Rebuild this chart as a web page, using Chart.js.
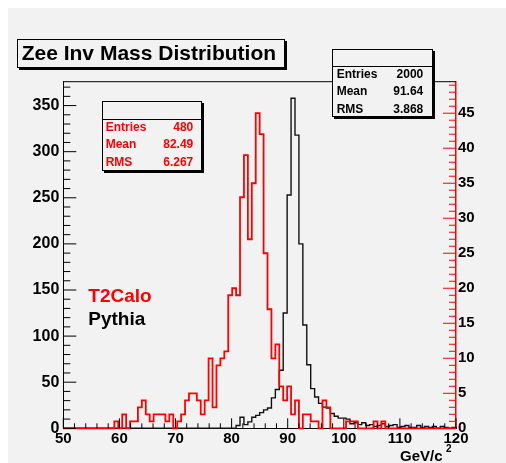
<!DOCTYPE html>
<html lang="en">
  <head>
    <meta charset="UTF-8" />
    <title>Zee Inv Mass Distribution</title>
    <script src="https://cdn.jsdelivr.net/npm/chart.js@4.4.0/dist/chart.umd.min.js"></script>
    <style>
      body { margin: 0; background: #fff; font-family: "Liberation Sans", Arial, sans-serif; }
      #wrap { position: relative; width: 506px; height: 463px; overflow: hidden; }
      #pad { position: absolute; left: 8px; top: 8px; width: 498px; height: 455px; background: #f2f2f2; }
      #c { position: absolute; left: 0; top: 0; }
      .box { position: absolute; box-sizing: border-box; border: 1px solid #000; background: #f2f2f2; box-shadow: 2px 2px 0 #000; }
      .sep { position: absolute; height: 1px; background: #000; }
      .txt { position: absolute; white-space: nowrap; line-height: 1; font-weight: bold; }
      .row { position: absolute; display: flex; justify-content: space-between; font-size: 12px; line-height: 1; font-weight: bold; }
      .red { color: #ff0000; }
    </style>
  </head>
  <body>
  <div id="wrap">
    <div id="pad"></div>
    <canvas id="c" width="506" height="463"></canvas>

    <!-- title -->
    <div class="box" style="left:17px;top:39px;width:268px;height:29px;"></div>
    <div class="txt" style="left:21.7px;top:42.2px;font-size:21px;">Zee Inv Mass Distribution</div>

    <!-- Pythia stats -->
    <div class="box" style="left:332px;top:49px;width:101px;height:68px;"></div>
    <div class="sep" style="left:332px;top:66px;width:101px;"></div>
    <div class="row" style="left:336.7px;top:68.1px;width:86.6px;"><span>Entries</span><span id="bEnt"></span></div>
    <div class="row" style="left:336.7px;top:84.8px;width:86.6px;"><span>Mean</span><span id="bMean"></span></div>
    <div class="row" style="left:336.7px;top:102.5px;width:86.6px;"><span>RMS</span><span id="bRms"></span></div>

    <!-- T2Calo stats -->
    <div class="box" style="left:102px;top:101px;width:100px;height:70px;"></div>
    <div class="sep" style="left:102px;top:119px;width:100px;"></div>
    <div class="row red" style="left:105.7px;top:121.4px;width:87.6px;"><span>Entries</span><span id="rEnt"></span></div>
    <div class="row red" style="left:105.7px;top:138.1px;width:87.6px;"><span>Mean</span><span id="rMean"></span></div>
    <div class="row red" style="left:105.7px;top:155.8px;width:87.6px;"><span>RMS</span><span id="rRms"></span></div>

    <!-- legend -->
    <div class="txt red" style="left:88.3px;top:286.4px;font-size:19px;">T2Calo</div>
    <div class="txt" style="left:88.3px;top:309.2px;font-size:19px;">Pythia</div>

    <!-- axis title -->
    <div class="txt" style="left:400px;top:448.3px;font-size:15px;">GeV/c</div>
    <div class="txt" style="left:446px;top:443.7px;font-size:10px;">2</div>
  </div>

  <script>
    // histogram binning
    const xMin = 50;
    const xMax = 120;
    const nBins = 100;

    // Pythia (black, left axis), counts per bin
    const pythia = [
      0, 0, 0, 0, 0, 0, 0, 0, 0, 0,
      0, 0, 0, 0, 0, 0, 0, 0, 0, 0,
      0, 0, 0, 0, 0, 0, 0, 0, 0, 0,
      0, 0, 0, 0, 0, 0, 0, 0, 0, 0,
      0, 0, 0, 0, 3, 12, 4, 7, 12, 14,
      17, 20, 22, 33, 42, 63, 125, 253, 358, 318,
      200, 112, 69, 43, 34, 27, 23, 22, 16, 13,
      11, 11, 10, 5, 6, 4, 6, 3, 4, 2,
      3, 5, 2, 3, 4, 1, 2, 3, 1, 1,
      3, 1, 2, 1, 2, 0, 2, 1, 0, 1
    ];

    // T2Calo (red, right axis), counts per bin
    const t2calo = [
      0, 0, 0, 0, 0, 0, 0, 0, 0, 0,
      0, 0, 0, 1, 0, 2, 0, 1, 1, 3,
      4, 2, 1, 2, 2, 2, 1, 2, 0, 1,
      2, 4, 5, 5, 4, 2, 4, 10, 3, 9,
      10, 11, 19, 20, 19, 33, 39, 27, 35, 45,
      42, 25, 17, 10, 12, 6, 4, 6, 2, 4,
      0, 2, 2, 1, 1, 0, 4, 3, 0, 0,
      0, 0, 1, 1, 1, 0, 0, 0, 0, 1,
      0, 1, 0, 0, 0, 0, 0, 0, 0, 0,
      0, 0, 0, 0, 0, 0, 0, 0, 0, 0
    ];

    // stats box values
    const pythiaStats = { entries: '2000', mean: '91.64', rms: '3.868' };
    const t2caloStats = { entries: '480', mean: '82.49', rms: '6.267' };

    // tick labels
    const xTicks = [50, 60, 70, 80, 90, 100, 110, 120];
    const leftTicks = [0, 50, 100, 150, 200, 250, 300, 350];
    const rightTicks = [0, 5, 10, 15, 20, 25, 30, 35, 40, 45];

    document.getElementById('bEnt').textContent = pythiaStats.entries;
    document.getElementById('bMean').textContent = pythiaStats.mean;
    document.getElementById('bRms').textContent = pythiaStats.rms;
    document.getElementById('rEnt').textContent = t2caloStats.entries;
    document.getElementById('rMean').textContent = t2caloStats.mean;
    document.getElementById('rRms').textContent = t2caloStats.rms;

    const binW = (xMax - xMin) / nBins;

    // step outline points: left edge of each bin, then close at xMax
    function outline(vals) {
      const pts = vals.map((v, k) => ({ x: xMin + k * binW, y: v }));
      pts.push({ x: xMax, y: 0 });
      return pts;
    }

    // ROOT style ranges: 5% head room on left, right axis = 1.1 * max
    const leftMax = Math.max(...pythia) * 1.05;
    const rightMax = Math.max(...t2calo) * 1.1;

    // inward tick marks and top frame line, like ROOT
    const rootAxes = {
      id: 'rootAxes',
      afterDatasetsDraw(chart) {
        const { ctx, chartArea: a, scales } = chart;
        const line = (x1, y1, x2, y2) => { ctx.beginPath(); ctx.moveTo(x1, y1); ctx.lineTo(x2, y2); ctx.stroke(); };
        ctx.save();
        ctx.lineWidth = 1;
        ctx.strokeStyle = '#000';
        line(a.left, a.top, a.right, a.top);
        // left axis
        for (let v = 0; v <= scales.yL.max; v += 10) {
          const py = scales.yL.getPixelForValue(v);
          line(a.left, py, a.left + (v % 50 === 0 ? 13 : 7), py);
        }
        // x axis
        for (let v = xMin; v <= xMax; v += 2) {
          const px = scales.x.getPixelForValue(v);
          line(px, a.bottom, px, a.bottom - (v % 10 === 0 ? 10 : 5));
        }
        // right axis in red
        ctx.strokeStyle = '#ff0000';
        for (let v = 0; v <= scales.yR.max; v += 1) {
          const py = scales.yR.getPixelForValue(v);
          line(a.right, py, a.right - (v % 5 === 0 ? 13 : 7), py);
        }
        ctx.restore();
      }
    };

    const tickFont = { family: 'Liberation Sans', weight: 'bold', size: 15 };

    new Chart(document.getElementById('c'), {
      type: 'line',
      data: {
        datasets: [
          {
            label: 'T2Calo',
            data: outline(t2calo),
            yAxisID: 'yR',
            borderColor: '#ff0000',
            borderWidth: 1.8,
            stepped: 'before',
            pointRadius: 0,
            fill: false,
            clip: 3,
            order: 0
          },
          {
            label: 'Pythia',
            data: outline(pythia),
            yAxisID: 'yL',
            borderColor: '#111',
            borderWidth: 1.4,
            stepped: 'before',
            pointRadius: 0,
            fill: false,
            clip: 3,
            order: 1
          }
        ]
      },
      options: {
        responsive: false,
        animation: false,
        layout: { padding: { top: 81.7, left: 0, right: 0, bottom: 0 } },
        plugins: { legend: { display: false }, tooltip: { enabled: false } },
        scales: {
          x: {
            type: 'linear',
            min: xMin,
            max: xMax,
            afterFit: s => { s.height = 34.7; },
            afterBuildTicks: s => { s.ticks = xTicks.map(v => ({ value: v })); },
            grid: { display: false, drawTicks: false },
            border: { display: true, color: '#000', width: 1 },
            ticks: { font: tickFont, color: '#000', padding: 2, maxRotation: 0, autoSkip: false }
          },
          yL: {
            type: 'linear',
            position: 'left',
            min: 0,
            max: leftMax,
            afterFit: s => { s.width = 63.3; },
            afterBuildTicks: s => { s.ticks = leftTicks.map(v => ({ value: v })); },
            grid: { display: false, drawTicks: false },
            border: { display: true, color: '#000', width: 1 },
            ticks: { font: { family: 'Liberation Sans', weight: 'bold', size: 16 }, color: '#000', padding: 4 }
          },
          yR: {
            type: 'linear',
            position: 'right',
            min: 0,
            max: rightMax,
            afterFit: s => { s.width = 50; },
            afterBuildTicks: s => { s.ticks = rightTicks.map(v => ({ value: v })); },
            grid: { display: false, drawTicks: false },
            border: { display: true, color: '#ff0000', width: 1.5 },
            ticks: { font: tickFont, color: '#000', padding: 2 }
          }
        }
      },
      plugins: [rootAxes]
    });
  </script>
  </body>
</html>
